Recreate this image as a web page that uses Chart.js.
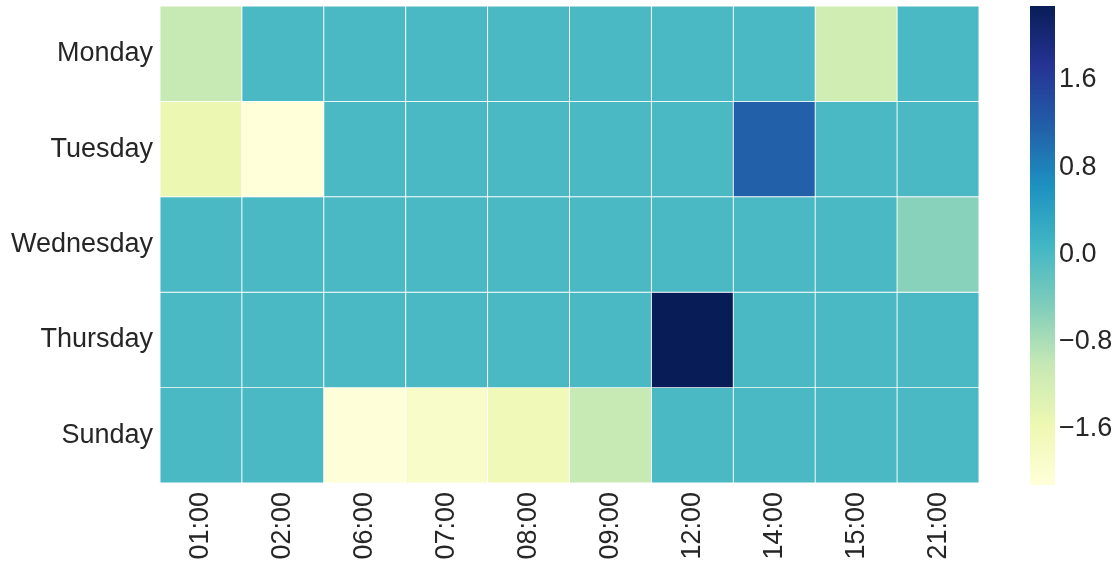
<!DOCTYPE html>
<html>
<head>
<meta charset="utf-8">
<script src="https://cdn.jsdelivr.net/npm/chart.js@4"></script>
<style>
  body { margin: 0; background: #fff; }
  #wrap { position: relative; width: 1120px; height: 565px; }
  #heat { position: absolute; left: 0; top: 0; }
  #bar { position: absolute; left: 1000px; top: 0; }
</style>
</head>
<body>
<div id="wrap">
  <canvas id="heat" width="1000" height="565"></canvas>
  <canvas id="bar" width="120" height="565"></canvas>
</div>
<script>
// data
const days = ["Monday", "Tuesday", "Wednesday", "Thursday", "Sunday"];
const hours = ["01:00", "02:00", "06:00", "07:00", "08:00", "09:00", "12:00", "14:00", "15:00", "21:00"];
const monday    = [-1.02, 0.0, 0.0, 0.0, 0.0, 0.0, 0.0, 0.0, -1.15, 0.0];
const tuesday   = [-1.55, -2.12, 0.0, 0.0, 0.0, 0.0, 0.0, 1.15, 0.0, 0.0];
const wednesday = [0.0, 0.0, 0.0, 0.0, 0.0, 0.0, 0.0, 0.0, 0.0, -0.54];
const thursday  = [0.0, 0.0, 0.0, 0.0, 0.0, 0.0, 2.28, 0.0, 0.0, 0.0];
const sunday    = [0.0, 0.0, -2.1, -1.9, -1.68, -1.02, 0.0, 0.0, 0.0, 0.0];
const cbarTicks = [-1.6, -0.8, 0.0, 0.8, 1.6];

const rowsData = [monday, tuesday, wednesday, thursday, sunday];
const allVals = rowsData.flat();
const vmin = Math.min(...allVals);
const vmax = Math.max(...allVals);

// YlGnBu
const cmap = ["#ffffd9", "#edf8b1", "#c7e9b4", "#7fcdbb", "#41b6c4", "#1d91c0", "#225ea8", "#253494", "#081d58"];

const hexToRgb = (h) => [1, 3, 5].map((i) => parseInt(h.slice(i, i + 2), 16));

const colorFor = (v) => {
  let t = (v - vmin) / (vmax - vmin);
  t = Math.max(0, Math.min(1, t));
  let pos = t * (cmap.length - 1);
  let i = Math.min(Math.floor(pos), cmap.length - 2);
  let f = pos - i;
  let a = hexToRgb(cmap[i]);
  let b = hexToRgb(cmap[i + 1]);
  let c = a.map((x, k) => Math.round(x + (b[k] - x) * f));
  return `rgb(${c[0]},${c[1]},${c[2]})`;
};

const font = { family: "'Liberation Sans', Arial, sans-serif", size: 27 };
const textColor = "#262626";

const datasets = rowsData.map((row, r) => ({
  label: days[r],
  data: row.map(() => [r, r + 1]),
  backgroundColor: row.map(colorFor),
  borderColor: "#ffffff",
  borderWidth: 0.8,
  borderSkipped: false,
  barPercentage: 1,
  categoryPercentage: 1,
  grouped: false,
}));

new Chart(document.getElementById("heat"), {
  type: "bar",
  data: { labels: hours, datasets: datasets },
  options: {
    responsive: false,
    animation: false,
    layout: { padding: { top: 6, right: 21 } },
    plugins: { legend: { display: false }, tooltip: { enabled: false } },
    scales: {
      x: {
        grid: { display: false, drawTicks: false },
        border: { display: false },
        ticks: { font: font, color: textColor, minRotation: 90, maxRotation: 90, padding: 9 },
        afterFit: (scale) => {
          scale.height = 82;
          scale.paddingLeft = 0;
          scale.paddingRight = 0;
        },
      },
      y: {
        type: "linear",
        min: 0,
        max: days.length,
        reverse: true,
        grid: { display: false, drawTicks: false },
        border: { display: false },
        afterBuildTicks: (scale) => {
          scale.ticks = days.map((d, i) => ({ value: i + 0.5 }));
        },
        ticks: {
          font: font,
          color: textColor,
          padding: 7,
          callback: (v) => days[Math.round(v - 0.5)],
        },
        afterFit: (scale) => {
          scale.width = 160;
          scale.paddingTop = 0;
          scale.paddingBottom = 0;
        },
      },
    },
  },
});

// colour bar
new Chart(document.getElementById("bar"), {
  type: "bar",
  data: {
    labels: [""],
    datasets: [{
      data: [[vmin, vmax]],
      backgroundColor: (ctx) => {
        const chart = ctx.chart;
        const y = chart.scales.y;
        if (!chart.chartArea || !y) return cmap[4];
        const y0 = y.getPixelForValue(vmin);
        const y1 = y.getPixelForValue(vmax);
        if (!isFinite(y0) || !isFinite(y1)) return cmap[4];
        const g = chart.ctx.createLinearGradient(0, y0, 0, y1);
        cmap.forEach((c, i) => g.addColorStop(i / (cmap.length - 1), c));
        return g;
      },
      borderWidth: 0,
      barPercentage: 1,
      categoryPercentage: 1,
    }],
  },
  options: {
    responsive: false,
    animation: false,
    layout: { padding: { left: 30, top: 6, bottom: 80 } },
    plugins: { legend: { display: false }, tooltip: { enabled: false } },
    scales: {
      x: { display: false },
      y: {
        type: "linear",
        position: "right",
        min: vmin,
        max: vmax,
        grid: { display: false, drawTicks: false },
        border: { display: false },
        afterBuildTicks: (scale) => {
          scale.ticks = cbarTicks.map((v) => ({ value: v }));
        },
        ticks: {
          font: font,
          color: textColor,
          padding: 4,
          callback: (v) => v.toFixed(1).replace("-", "\u2212"),
        },
        afterFit: (scale) => {
          scale.width = 65;
          scale.paddingTop = 0;
          scale.paddingBottom = 0;
        },
      },
    },
  },
});
</script>
</body>
</html>
